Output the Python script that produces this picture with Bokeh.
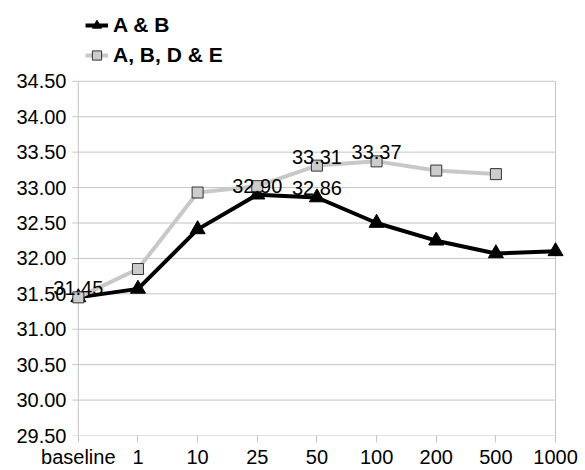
from bokeh.plotting import figure
from bokeh.models import (Range1d, FixedTicker, PrintfTickFormatter, Legend, LegendItem,
                          ColumnDataSource)
from bokeh.core.properties import value
from bokeh.embed import file_html
from bokeh.resources import INLINE

# ---- data ----
categories = ["baseline", "1", "10", "25", "50", "100", "200", "500", "1000"]
series_ab = [31.45, 31.57, 32.41, 32.90, 32.86, 32.50, 32.25, 32.07, 32.10]
series_abde = [31.45, 31.85, 32.93, 33.02, 33.31, 33.37, 33.24, 33.19]
y_ticks = [29.5, 30.0, 30.5, 31.0, 31.5, 32.0, 32.5, 33.0, 33.5, 34.0, 34.5]
labels_ab_idx = [0, 3, 4]
labels_abde_idx = [4, 5]

FONT = "Liberation Sans"
GRID = "#c4c4c4"

x_pos = list(range(len(categories)))
n = len(categories)

# the frame reaches the top of the canvas so that the legend sits inside it
Y_TOP = y_ticks[0] + 436 / 71.0

p = figure(width=585, height=470, output_backend="svg", toolbar_location=None,
           x_range=Range1d(-0.55, n - 1 + 0.15), y_range=Range1d(y_ticks[0], Y_TOP),
           min_border_left=45, min_border_right=21, min_border_top=0, min_border_bottom=34)
p.outline_line_color = None
p.background_fill_color = "white"
p.border_fill_color = "white"
p.xgrid.visible = False
p.ygrid.visible = False

# grid lines (with short outward tick stubs on the left)
xl = [-0.1] * len(y_ticks)
xr = [n - 1] * len(y_ticks)
p.segment(x0=xl, x1=xr, y0=y_ticks, y1=y_ticks, line_color=GRID, line_width=1)
# left axis line and right border
p.segment(x0=[0, n - 1], x1=[0, n - 1], y0=[y_ticks[0]] * 2, y1=[y_ticks[-1]] * 2,
          line_color=GRID, line_width=1)

# axes
xa = p.xaxis[0]
xa.ticker = FixedTicker(ticks=x_pos)
xa.major_label_overrides = {i: c for i, c in enumerate(categories)}
xa.axis_line_color = None
xa.major_tick_line_color = GRID
xa.major_tick_out = 7
xa.major_tick_in = 0
xa.minor_tick_line_color = None
xa.major_label_standoff = 3
xa.major_label_text_font = FONT
xa.major_label_text_font_size = "20px"
xa.major_label_text_color = "black"

ya = p.yaxis[0]
ya.ticker = FixedTicker(ticks=y_ticks)
ya.formatter = PrintfTickFormatter(format="%.2f")
ya.axis_line_color = None
ya.major_tick_line_color = None
ya.minor_tick_line_color = None
ya.major_tick_out = 0
ya.major_tick_in = 0
ya.major_label_standoff = -21
ya.major_label_text_font = FONT
ya.major_label_text_font_size = "20px"
ya.major_label_text_color = "black"

# series
src_ab = ColumnDataSource(dict(x=x_pos[:len(series_ab)], y=series_ab))
src_abde = ColumnDataSource(dict(x=x_pos[:len(series_abde)], y=series_abde))

l_ab = p.line("x", "y", source=src_ab, line_color="black", line_width=4)
m_ab = p.scatter("x", "y", source=src_ab, marker="triangle", size=15,
                 fill_color="black", line_color="black")
l_abde = p.line("x", "y", source=src_abde, line_color="#c8c8c8", line_width=4)
m_abde = p.scatter("x", "y", source=src_abde, marker="square", size=11,
                   fill_color="#cccccc", line_color="#333333", line_width=1)

# data labels
lx = [x_pos[i] for i in labels_ab_idx] + [x_pos[i] for i in labels_abde_idx]
ly = [series_ab[i] for i in labels_ab_idx] + [series_abde[i] for i in labels_abde_idx]
lt = ["%.2f" % v for v in ly]
p.text(x=lx, y=ly, text=lt, text_font=value(FONT), text_font_size="20px",
       text_color="black", text_align="center", text_baseline="alphabetic", y_offset=-9)

legend = Legend(items=[LegendItem(label="A & B", renderers=[l_ab, m_ab]),
                       LegendItem(label="A, B, D & E", renderers=[l_abde, m_abde])],
                location=(40, 365), orientation="vertical")
legend.label_text_font = FONT
legend.label_text_font_size = "21px"
legend.label_text_font_style = "bold"
legend.label_text_color = "black"
legend.label_height = 30
legend.glyph_height = 30
legend.glyph_width = 23
legend.label_standoff = 5
legend.spacing = 0
legend.padding = 0
legend.margin = 0
legend.border_line_color = None
legend.background_fill_color = None
p.add_layout(legend, "center")

open("out.html", "w").write(file_html(p, INLINE))
